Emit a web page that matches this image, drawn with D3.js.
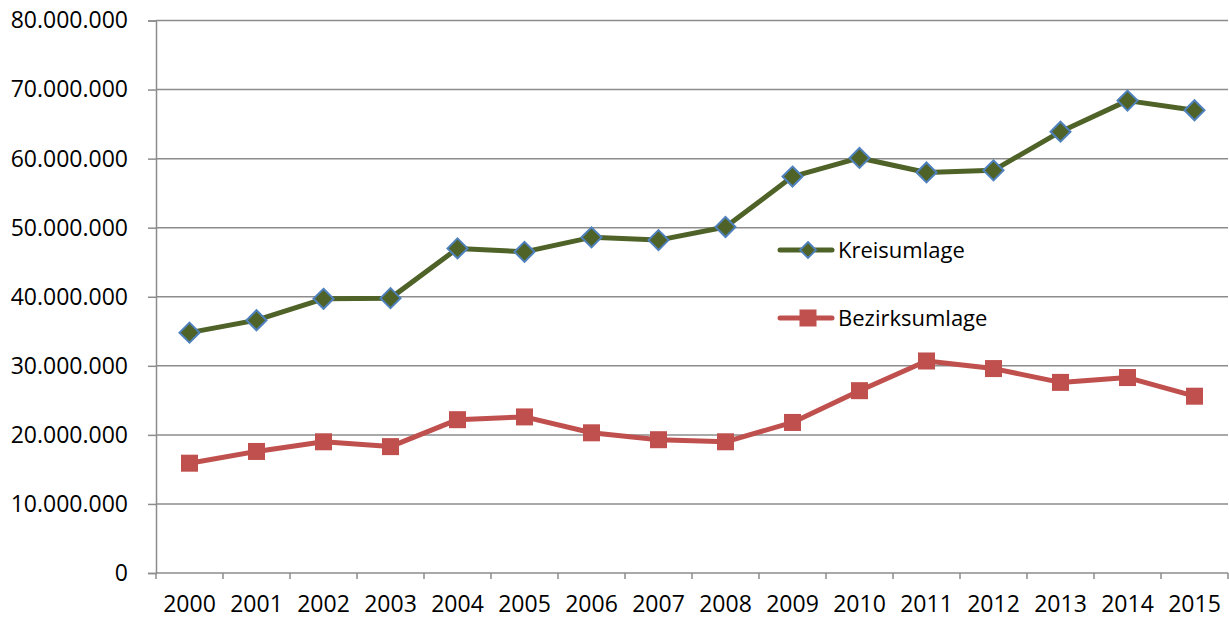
<!DOCTYPE html>
<html>
<head>
<meta charset="utf-8">
<script src="https://cdn.jsdelivr.net/npm/d3@7"></script>
<style>
  body { margin: 0; background: #fff; }
  text { font-family: "Open Sans", sans-serif; fill: #000; }
</style>
</head>
<body>
<div id="chart"></div>
<script>
// values
var years = ["2000","2001","2002","2003","2004","2005","2006","2007","2008","2009","2010","2011","2012","2013","2014","2015"];
var kreisumlage = [34.8e6, 36.6e6, 39.7e6, 39.8e6, 47.0e6, 46.5e6, 48.6e6, 48.2e6, 50.1e6, 57.4e6, 60.1e6, 58.0e6, 58.3e6, 63.9e6, 68.4e6, 67.0e6];
var bezirksumlage = [15.9e6, 17.6e6, 19.0e6, 18.3e6, 22.2e6, 22.6e6, 20.3e6, 19.3e6, 19.0e6, 21.8e6, 26.4e6, 30.7e6, 29.6e6, 27.6e6, 28.3e6, 25.6e6];
var yTicks = [0, 10e6, 20e6, 30e6, 40e6, 50e6, 60e6, 70e6, 80e6];
var seriesNames = ["Kreisumlage", "Bezirksumlage"];

var W = 1229, H = 620;
var margin = { left: 156, right: 1, top: 20.5, bottom: 47 };
var width = W - margin.left - margin.right;
var height = H - margin.top - margin.bottom;

var svg = d3.select("#chart").append("svg")
  .attr("width", W)
  .attr("height", H);

var g = svg.append("g")
  .attr("transform", "translate(" + margin.left + "," + margin.top + ")");

var x = d3.scaleBand().domain(years).range([0, width]).padding(0);
var y = d3.scaleLinear().domain([0, 80e6]).range([height, 0]);

var fmt = function(v) {
  return v === 0 ? "0" : d3.format(",")(v).replace(/,/g, ".");
};

// gridlines
g.selectAll(".grid")
  .data(yTicks.filter(function(d){ return d > 0; }))
  .enter().append("line")
  .attr("x1", 0).attr("x2", width)
  .attr("y1", function(d){ return y(d); })
  .attr("y2", function(d){ return y(d); })
  .attr("stroke", "#8c8c8c")
  .attr("stroke-width", 1.5);

// y axis
var yAxis = g.append("g")
  .call(d3.axisLeft(y).tickValues(yTicks).tickFormat(fmt).tickSize(8).tickPadding(20));
yAxis.select(".domain").attr("stroke", "#8c8c8c").attr("stroke-width", 1.5);
yAxis.selectAll(".tick line").attr("stroke", "#8c8c8c").attr("stroke-width", 1.5);
yAxis.selectAll("text").style("font-size", "23px").attr("fill", "#000");

// x axis: ticks at category boundaries
var xAxis = g.append("g")
  .attr("transform", "translate(0," + height + ")");
xAxis.append("line")
  .attr("x1", 0).attr("x2", width)
  .attr("stroke", "#8c8c8c").attr("stroke-width", 1.5);
xAxis.selectAll(".xt")
  .data(years.concat(["end"]))
  .enter().append("line")
  .attr("x1", function(d, i){ return i * x.bandwidth(); })
  .attr("x2", function(d, i){ return i * x.bandwidth(); })
  .attr("y1", 0).attr("y2", 6)
  .attr("stroke", "#8c8c8c").attr("stroke-width", 1.5);
xAxis.selectAll(".xl")
  .data(years)
  .enter().append("text")
  .attr("x", function(d){ return x(d) + x.bandwidth() / 2; })
  .attr("y", 39)
  .attr("text-anchor", "middle")
  .style("font-size", "23px")
  .text(function(d){ return d; });

var line = d3.line()
  .x(function(d, i){ return x(years[i]) + x.bandwidth() / 2; })
  .y(function(d){ return y(d); });

function diamondPath(s) {
  return "M0," + (-s) + "L" + s + ",0L0," + s + "L" + (-s) + ",0Z";
}

// Kreisumlage
g.append("path")
  .datum(kreisumlage)
  .attr("d", line)
  .attr("fill", "none")
  .attr("stroke", "#4f6228")
  .attr("stroke-width", 5)
  .attr("stroke-linejoin", "round");

g.selectAll(".kmark")
  .data(kreisumlage)
  .enter().append("path")
  .attr("d", diamondPath(10))
  .attr("transform", function(d, i){
    return "translate(" + (x(years[i]) + x.bandwidth() / 2) + "," + y(d) + ")";
  })
  .attr("fill", "#4f6228")
  .attr("stroke", "#4f81bd")
  .attr("stroke-width", 2);

// Bezirksumlage
g.append("path")
  .datum(bezirksumlage)
  .attr("d", line)
  .attr("fill", "none")
  .attr("stroke", "#c0504d")
  .attr("stroke-width", 5)
  .attr("stroke-linejoin", "round");

g.selectAll(".bmark")
  .data(bezirksumlage)
  .enter().append("rect")
  .attr("x", function(d, i){ return x(years[i]) + x.bandwidth() / 2 - 8.5; })
  .attr("y", function(d){ return y(d) - 8.5; })
  .attr("width", 17)
  .attr("height", 17)
  .attr("fill", "#c0504d");

// legend
var legend = svg.append("g").attr("transform", "translate(780,0)");
var items = legend.selectAll(".item")
  .data(seriesNames)
  .enter().append("g")
  .attr("transform", function(d, i){ return "translate(0," + (250 + i * 68) + ")"; });

items.append("line")
  .attr("x1", 0).attr("x2", 52)
  .attr("stroke", function(d, i){ return i === 0 ? "#4f6228" : "#c0504d"; })
  .attr("stroke-width", 5)
  .attr("stroke-linecap", "round");

items.filter(function(d, i){ return i === 0; })
  .append("path")
  .attr("d", diamondPath(8))
  .attr("transform", "translate(28,0)")
  .attr("fill", "#4f6228")
  .attr("stroke", "#4f81bd")
  .attr("stroke-width", 1.8);

items.filter(function(d, i){ return i === 1; })
  .append("rect")
  .attr("x", 19.5).attr("y", -8.5)
  .attr("width", 17).attr("height", 17)
  .attr("fill", "#c0504d");

items.append("text")
  .attr("x", 58)
  .attr("dy", "0.35em")
  .style("font-size", "22px")
  .text(function(d){ return d; });
</script>
</body>
</html>
